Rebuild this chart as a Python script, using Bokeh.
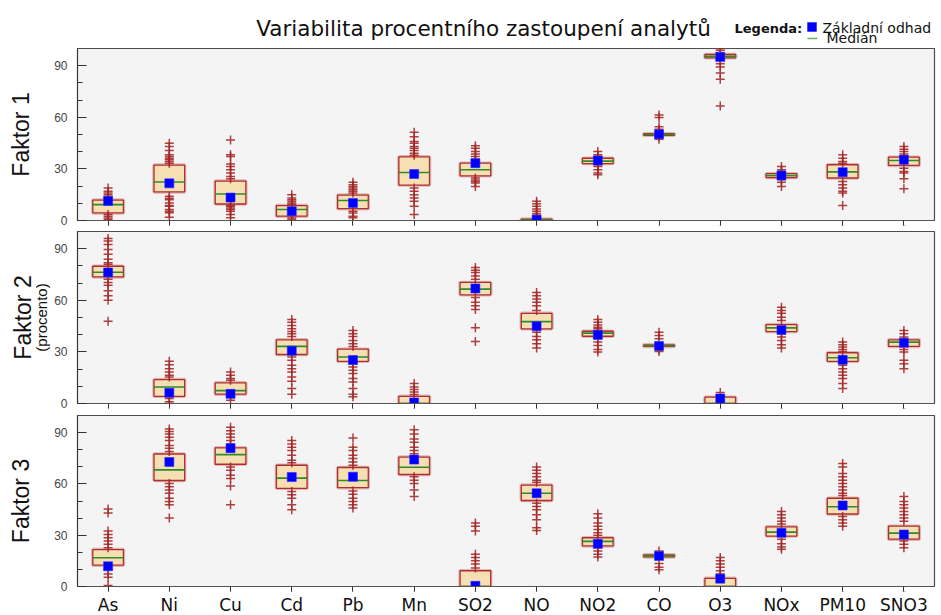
from bokeh.plotting import figure
from bokeh.layouts import column
from bokeh.models import FactorRange, Range1d, FixedTicker, LinearAxis
from bokeh.embed import file_html
from bokeh.resources import INLINE
from bokeh.core.properties import value

# ---------------- data ----------------
cats = ["As", "Ni", "Cu", "Cd", "Pb", "Mn", "SO2", "NO", "NO2", "CO", "O3", "NOx", "PM10", "SNO3"]
title_text = "Variabilita procentního zastoupení analytů"
legend_title = "Legenda:"
legend_base = "Základní odhad"
legend_median = "Medián"
panel_labels = ["Faktor 1", "Faktor 2", "Faktor 3"]
unit_label = "(procento)"
y_ticks = [0, 30, 60, 90]
y_minor = [10, 20, 40, 50, 70, 80]

# Faktor 1
f1_q1 = [4.4, 16.6, 9.6, 2.5, 6.9, 20.6, 26.0, 0.0, 33.1, 49.5, 94.6, 25.0, 24.7, 32.0]
f1_q3 = [11.9, 32.2, 22.9, 8.7, 14.8, 37.0, 33.3, 0.8, 36.2, 50.5, 96.5, 27.2, 32.4, 36.8]
f1_med = [9.2, 22.4, 15.4, 6.4, 11.6, 27.9, 29.5, 0.3, 34.5, 50.1, 95.4, 26.2, 28.3, 34.9]
f1_base = [11.4, 21.6, 13.3, 5.4, 10.2, 27.0, 33.3, 0.5, 34.9, 50.1, 95.0, 26.2, 28.1, 35.3]
f1_out = [
    [18.9, 17.0, 16.0, 15.0, 14.0, 13.0, 3.5, 2.5, 1.5, 0.6],
    [44.9, 43.0, 40.7, 38.2, 37.2, 36.2, 35.3, 34.3, 33.3, 14.1, 13.0, 12.1, 10.2, 8.7, 8.3, 6.4, 5.4, 4.5, 1.9],
    [46.8, 38.2, 37.2, 32.8, 31.4, 29.5, 27.6, 25.6, 24.3, 8.7, 8.3, 7.3, 6.4, 5.4, 3.5, 1.6],
    [15.0, 13.1, 12.1, 11.2, 10.2, 9.5, 1.5, 0.6],
    [22.2, 20.8, 19.8, 18.9, 17.9, 17.0, 16.0, 5.4, 4.4, 2.5, 1.6],
    [51.3, 48.7, 45.9, 44.9, 43.0, 42.0, 40.7, 39.1, 38.0, 18.9, 17.0, 15.0, 13.1, 11.2, 8.3, 3.5],
    [43.5, 42.0, 40.1, 38.7, 37.2, 35.6, 34.5, 24.7, 23.5, 22.7, 21.8, 19.8],
    [11.2, 9.8, 8.3, 6.7, 5.4, 4.0, 3.0, 2.0, 1.2],
    [40.1, 38.2, 37.2, 32.4, 31.4, 29.5, 27.6, 26.6],
    [61.3, 59.9, 54.5, 53.0, 51.6, 48.7, 47.2],
    [99.8, 98.8, 97.5, 93.1, 91.1, 89.2, 85.7, 82.1, 66.5],
    [31.4, 29.5, 28.5, 23.7, 22.2, 19.8],
    [38.2, 36.2, 34.3, 33.3, 22.7, 20.8, 18.9, 17.0, 16.0, 8.7],
    [43.0, 41.4, 40.1, 38.7, 37.6, 30.4, 28.5, 27.6, 24.3, 18.5],
]

# Faktor 2
f2_q1 = [73.6, 4.2, 5.4, 28.5, 24.5, 0.0, 63.2, 43.4, 39.1, 33.2, 0.0, 41.8, 24.5, 33.2]
f2_q3 = [79.8, 13.9, 12.0, 37.0, 31.6, 4.2, 70.4, 52.4, 42.0, 34.1, 3.7, 45.9, 29.5, 37.0]
f2_med = [76.3, 9.6, 7.5, 33.2, 27.0, 0.0, 66.5, 47.6, 40.9, 33.6, 0.0, 44.0, 26.6, 35.7]
f2_base = [76.2, 6.2, 5.6, 30.7, 25.3, 0.6, 66.9, 44.9, 39.9, 33.5, 2.9, 42.8, 25.4, 35.3]
f2_out = [
    [96.0, 94.5, 92.5, 89.6, 86.8, 83.9, 81.9, 81.0, 72.3, 70.4, 68.8, 65.5, 62.7, 60.1, 47.8],
    [24.5, 22.6, 20.2, 18.3, 16.4, 15.4, 2.9, 1.0, 0.0],
    [18.3, 16.4, 14.5, 13.5, 3.9, 1.9],
    [48.8, 47.2, 45.3, 43.4, 41.8, 40.5, 38.9, 27.0, 25.1, 22.2, 20.2, 18.3, 15.4, 12.9, 8.7, 5.4],
    [42.4, 40.5, 38.9, 36.6, 34.7, 33.2, 23.1, 21.2, 19.3, 17.4, 14.5, 12.5, 8.7, 5.4, 3.9],
    [11.6, 9.6, 8.1, 6.7, 5.2],
    [79.0, 77.5, 76.2, 74.2, 72.3, 61.7, 58.8, 56.9, 54.6, 44.0, 36.1],
    [64.6, 62.7, 60.7, 58.8, 56.9, 54.0, 41.4, 38.9, 37.0, 34.7, 32.2],
    [48.8, 47.2, 45.7, 44.3, 43.4, 37.6, 35.7, 33.7, 31.4, 29.9],
    [41.4, 39.5, 37.6, 31.4, 30.3],
    [6.4],
    [55.9, 54.0, 52.4, 50.1, 48.2, 40.5, 38.6, 36.6, 34.1, 32.2],
    [35.7, 34.1, 32.8, 31.4, 30.3, 22.2, 20.2, 18.3, 16.4, 14.5, 11.6, 8.7],
    [42.4, 40.5, 38.6, 31.4, 29.9, 25.1, 23.1, 20.2],
]

# Faktor 3
f3_q1 = [12.5, 62.0, 71.5, 57.4, 57.8, 65.5, 0.0, 50.3, 23.7, 17.3, 0.0, 29.5, 42.4, 27.7]
f3_q3 = [21.6, 77.5, 81.1, 70.9, 69.6, 75.7, 9.2, 59.3, 28.5, 18.5, 4.8, 34.9, 51.6, 35.3]
f3_med = [16.8, 68.2, 77.1, 63.4, 62.0, 69.7, 0.0, 54.5, 26.4, 17.9, 0.0, 31.8, 46.6, 31.2]
f3_base = [11.8, 72.8, 80.9, 64.0, 64.2, 74.2, 0.4, 54.5, 25.0, 17.9, 4.6, 31.4, 47.4, 30.4]
f3_out = [
    [45.3, 43.0, 32.4, 30.4, 28.5, 26.6, 24.7, 22.7, 10.2, 7.3, 5.4, 0.6],
    [92.1, 90.6, 89.2, 87.3, 85.4, 82.5, 80.9, 79.0, 60.3, 58.4, 56.5, 54.5, 51.6, 49.7, 47.8, 40.1],
    [93.1, 91.1, 89.2, 87.3, 85.4, 83.4, 69.9, 68.0, 65.1, 63.2, 58.8, 47.8],
    [85.4, 83.4, 81.5, 79.6, 76.7, 73.8, 72.4, 55.5, 53.6, 51.6, 47.8, 44.9],
    [86.9, 81.5, 79.6, 76.7, 74.8, 72.8, 70.9, 55.9, 53.9, 51.6, 49.7, 47.8, 45.9],
    [91.7, 89.2, 86.3, 84.4, 81.5, 79.6, 77.7, 64.2, 62.2, 60.3, 56.5, 52.6],
    [37.2, 35.3, 32.4, 18.9, 17.0, 15.0, 13.1, 10.8],
    [69.9, 68.0, 66.1, 64.2, 62.2, 60.9, 48.7, 46.8, 44.9, 42.0, 39.1, 34.3, 32.8],
    [42.6, 40.1, 37.2, 35.3, 33.3, 31.4, 29.9, 22.7, 20.8, 18.9, 17.3],
    [20.8, 13.5, 11.2, 9.8],
    [17.0, 15.0, 13.1, 11.2, 9.2, 7.3, 6.0],
    [43.9, 42.0, 40.1, 38.2, 36.6, 27.6, 25.0, 23.1, 21.8],
    [71.9, 69.9, 66.1, 64.2, 62.2, 60.3, 58.4, 56.5, 54.5, 53.2, 41.0, 39.1, 37.2, 35.3],
    [52.6, 49.7, 47.8, 45.9, 43.9, 42.0, 40.1, 38.2, 26.6, 24.7, 22.7],
]

# ---------------- style ----------------
W = 941
LEFT, RIGHT = 77, 7
BOX_FILL = "#f7dfb4"
BOX_LINE = "#ad3030"
HALO = "#d99a9a"
OUT_COL = "#a52626"
MED_COL = "#2f8a2a"
BASE_COL = "#0000ff"
BG = "#f4f4f4"

x_range = FactorRange(*cats)


def panel(q1, q3, med, base, outs, label, height, top, bottom, sub=None):
    p = figure(width=W, height=height, x_range=x_range, y_range=Range1d(0, 100),
               output_backend="svg", toolbar_location=None,
               min_border_left=LEFT, min_border_right=RIGHT,
               min_border_top=top, min_border_bottom=bottom,
               background_fill_color=BG, border_fill_color="white",
               outline_line_color="#4d4d4d", outline_line_width=1.2)
    p.grid.grid_line_color = None

    # boxes
    p.vbar(x=cats, top=q3, bottom=q1, width=0.5, fill_color=None,
           line_color=HALO, line_width=3.5, line_alpha=0.7)
    p.vbar(x=cats, top=q3, bottom=q1, width=0.5, fill_color=BOX_FILL,
           line_color=BOX_LINE, line_width=1.3)
    # outliers
    ox, oy = [], []
    for c, vals in zip(cats, outs):
        ox += [c] * len(vals)
        oy += vals
    p.scatter(x=ox, y=oy, marker="cross", size=9, line_color=OUT_COL,
              line_width=1.5, line_alpha=0.88)
    # median
    p.rect(x=cats, y=med, width=0.5, height=0.01, fill_color=None,
           line_color=MED_COL, line_width=1.6)
    # base estimate
    p.scatter(x=cats, y=base, marker="square", size=9, fill_color=BASE_COL,
              line_color="#2a2aff", line_width=0.6)

    ya = p.yaxis[0]
    ya.ticker = FixedTicker(ticks=y_ticks, minor_ticks=y_minor)
    ya.major_tick_in = 9
    ya.major_tick_out = 0
    ya.minor_tick_in = 5
    ya.minor_tick_out = 0
    ya.major_tick_line_color = "#333333"
    ya.minor_tick_line_color = "#333333"
    ya.axis_line_color = "#333333"
    ya.major_label_standoff = 10
    ya.major_label_text_font = "Liberation Sans"
    ya.major_label_text_font_size = "12px"
    ya.major_label_text_color = "#444444"
    ya.axis_label_text_font = "Liberation Sans"
    ya.axis_label_text_font_style = "normal"
    ya.axis_label_text_color = "#111111"
    if sub is None:
        ya.axis_label = label
        ya.axis_label_text_font_size = "23px"
        ya.axis_label_standoff = 17
    else:
        ya.axis_label = sub
        ya.axis_label_text_font_size = "15px"
        ya.axis_label_standoff = 1
        ax2 = LinearAxis(ticker=FixedTicker(ticks=[]), axis_label=label,
                         axis_line_color=None, major_tick_out=0, major_tick_in=0,
                         minor_tick_out=0, minor_tick_in=0,
                         major_label_text_font_size="1px",
                         axis_label_text_font="Liberation Sans",
                         axis_label_text_font_style="normal",
                         axis_label_text_font_size="23px",
                         axis_label_text_color="#111111",
                         axis_label_standoff=-5)
        p.add_layout(ax2, "left")

    xa = p.xaxis[0]
    xa.major_tick_out = 5
    xa.major_tick_in = 0
    xa.major_tick_line_color = "#333333"
    xa.axis_line_color = "#555555"
    xa.major_label_overrides = {c: "" for c in cats}
    xa.major_label_text_font_size = "1px"
    xa.major_label_standoff = 0
    return p


# header with title and legend (data units = canvas pixels)
h = figure(width=W, height=46, x_range=Range1d(LEFT, W - RIGHT), y_range=Range1d(0, 46),
           output_backend="svg", toolbar_location=None,
           min_border_left=LEFT, min_border_right=RIGHT, min_border_top=0, min_border_bottom=0,
           x_axis_location=None, y_axis_location=None, outline_line_color=None,
           background_fill_color="white", border_fill_color="white")
h.grid.grid_line_color = None
h.text(x=[483], y=[18.5], text=[title_text], text_font=value("DejaVu Sans"),
       text_font_size="21.5px", text_align="center", text_baseline="alphabetic",
       text_color="#111111")
h.text(x=[734], y=[18.5], text=[legend_title], text_font=value("DejaVu Sans"),
       text_font_size="13px", text_font_style="bold", text_align="left",
       text_baseline="alphabetic", text_color="#111111")
h.scatter(x=[811.5], y=[19.5], marker="square", size=9, fill_color=BASE_COL,
          line_color="#2a2aff", line_width=0.6)
h.text(x=[822], y=[18.5], text=[legend_base], text_font=value("DejaVu Sans"),
       text_font_size="14px", text_align="left", text_baseline="alphabetic",
       text_color="#111111")
h.segment(x0=[807], x1=[817], y0=[8], y1=[8], line_color="#66bb55", line_width=1.6)
h.text(x=[826], y=[0.6], text=[legend_median], text_font=value("DejaVu Sans"),
       text_font_size="14px", text_align="left", text_baseline="bottom",
       text_color="#111111")

p1 = panel(f1_q1, f1_q3, f1_med, f1_base, f1_out, panel_labels[0], 183, 2, 8)
p2 = panel(f2_q1, f2_q3, f2_med, f2_base, f2_out, panel_labels[1], 184, 2, 10, sub=unit_label)
p3 = panel(f3_q1, f3_q3, f3_med, f3_base, f3_out, panel_labels[2], 182, 2, 7)

# category labels strip under the last panel
s = figure(width=W, height=20, x_range=x_range, y_range=Range1d(0, 20),
           output_backend="svg", toolbar_location=None,
           min_border_left=LEFT, min_border_right=RIGHT, min_border_top=0, min_border_bottom=0,
           x_axis_location=None, y_axis_location=None, outline_line_color=None,
           background_fill_color="white", border_fill_color="white")
s.grid.grid_line_color = None
s.text(x=cats, y=[0.3] * len(cats), text=cats, text_font=value("DejaVu Sans"),
       text_font_size="17px", text_align="center", text_baseline="bottom",
       text_color="#111111")

layout = column(h, p1, p2, p3, s, spacing=0)
open("out.html", "w").write(file_html(layout, INLINE, title="Variabilita"))
